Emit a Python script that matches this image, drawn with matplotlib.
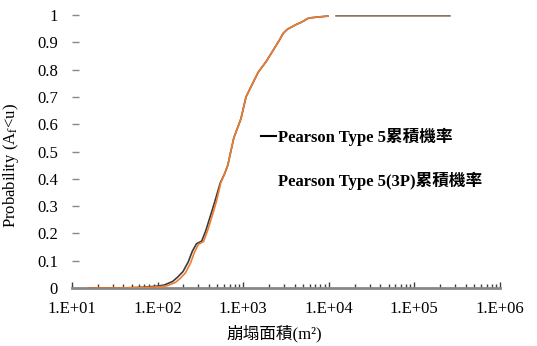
import numpy as np
import matplotlib
matplotlib.use('Agg')
import matplotlib.pyplot as plt
from matplotlib.lines import Line2D
from matplotlib.ticker import FixedLocator, LogLocator, NullFormatter

plt.rcParams['font.family'] = ['Liberation Serif', 'Noto Sans CJK TC']
plt.rcParams['mathtext.fontset'] = 'stix'

# Pearson Type 5(3P) 累積機率
x_3p = [15.9, 36, 75, 107, 129, 161, 184, 211, 242, 269, 300, 344, 384, 440,
        490, 547, 610, 662, 717, 778, 868, 942, 1080, 1203, 1342, 1497, 1623,
        1860, 2133, 2444, 2650, 2953, 3294, 3674, 4210, 4822, 5833, 6683,
        7656, 9773]
y_3p = [0, 0, 0.002, 0.005, 0.008, 0.02, 0.035, 0.055, 0.09, 0.13, 0.16, 0.17,
        0.21, 0.27, 0.32, 0.385, 0.42, 0.45, 0.50, 0.55, 0.59, 0.62, 0.70,
        0.73, 0.76, 0.79, 0.805, 0.83, 0.86, 0.89, 0.908, 0.934, 0.948, 0.956,
        0.966, 0.974, 0.989, 0.991, 0.993, 0.996]

# Pearson Type 5 累積機率 (sits just left of the 3P curve in the lower part)
x_p5 = [15.9, 36, 72, 100, 120, 150, 172, 198, 228, 255, 285, 328, 366, 420,
        470, 540, 610, 662, 717, 778, 868, 942, 1080, 1203, 1342, 1497, 1623,
        1860, 2133, 2444, 2650, 2953, 3294, 3674, 4210, 4822, 5833, 6683,
        7656, 9773]
y_p5 = [0, 0, 0.003, 0.007, 0.011, 0.024, 0.04, 0.06, 0.095, 0.135, 0.162,
        0.172, 0.21, 0.27, 0.32, 0.385, 0.42, 0.45, 0.50, 0.55, 0.59, 0.62,
        0.70, 0.73, 0.76, 0.79, 0.805, 0.83, 0.86, 0.89, 0.908, 0.934, 0.948,
        0.956, 0.966, 0.974, 0.989, 0.991, 0.993, 0.996]

# upper tail segment at probability 1
x_tail = [12160, 256500]
y_tail = [1, 1]

x_ticks = [1e1, 1e2, 1e3, 1e4, 1e5, 1e6]
x_ticklabels = ['1.E+01', '1.E+02', '1.E+03', '1.E+04', '1.E+05', '1.E+06']
y_ticks = [0, 0.1, 0.2, 0.3, 0.4, 0.5, 0.6, 0.7, 0.8, 0.9, 1]
y_ticklabels = ['0', '0.1', '0.2', '0.3', '0.4', '0.5', '0.6', '0.7', '0.8', '0.9', '1']

black_c, orange_c, tail_c = '#3a3a3a', '#ED7D31', '#8C7262'

fig = plt.figure(figsize=(5.37, 3.46), dpi=100)
ax = fig.add_axes([0.134, 0.1676, 0.797, 0.789])

ax.plot(x_p5, y_p5, color=black_c, lw=1.2, zorder=3)
ax.plot(x_3p, y_3p, color=orange_c, lw=1.2, zorder=4)
ax.plot(x_tail, y_tail, color=tail_c, lw=1.8, zorder=4)

ax.set_xscale('log')
ax.set_xlim(10, 1e6)
ax.set_ylim(0, 1)

ax.xaxis.set_major_locator(FixedLocator(x_ticks))
ax.set_xticklabels(x_ticklabels)
ax.xaxis.set_minor_locator(LogLocator(base=10, subs=np.arange(2, 10)))
ax.xaxis.set_minor_formatter(NullFormatter())
ax.set_yticks(y_ticks)
ax.set_yticklabels(y_ticklabels)

for s in ['top', 'right', 'left']:
    ax.spines[s].set_visible(False)
ax.spines['bottom'].set_color('#888888')
ax.spines['bottom'].set_linewidth(2)
ax.spines['bottom'].set_zorder(2)

ax.tick_params(axis='x', which='major', direction='in', length=4, width=1,
               color='#404040', pad=9, labelsize=12)
ax.tick_params(axis='x', which='minor', direction='in', length=3, width=1,
               color='#404040')
ax.tick_params(axis='y', direction='in', length=5, width=1, color='#888888',
               pad=10, labelsize=12)

ax.set_xlabel('崩塌面積(m²)', fontsize=12)
ax.xaxis.set_label_coords(0.472, -0.135)
ax.set_ylabel(r'Probability (A$_\mathrm{f}$<u)', fontsize=12)
ax.yaxis.set_label_coords(-0.12, 0.45)

handles = [Line2D([], [], color='black', lw=1.5),
           Line2D([], [], color='none', lw=1.5)]
labels = ['Pearson Type 5累積機率', 'Pearson Type 5(3P)累積機率']
ax.legend(handles, labels, loc='upper left', bbox_to_anchor=(0.426, 0.613),
          frameon=False, prop={'size': 12, 'weight': 'bold'},
          handlelength=0.9, handletextpad=0.1,
          labelspacing=1.55, borderaxespad=0)

fig.savefig('out.png', dpi=100)
